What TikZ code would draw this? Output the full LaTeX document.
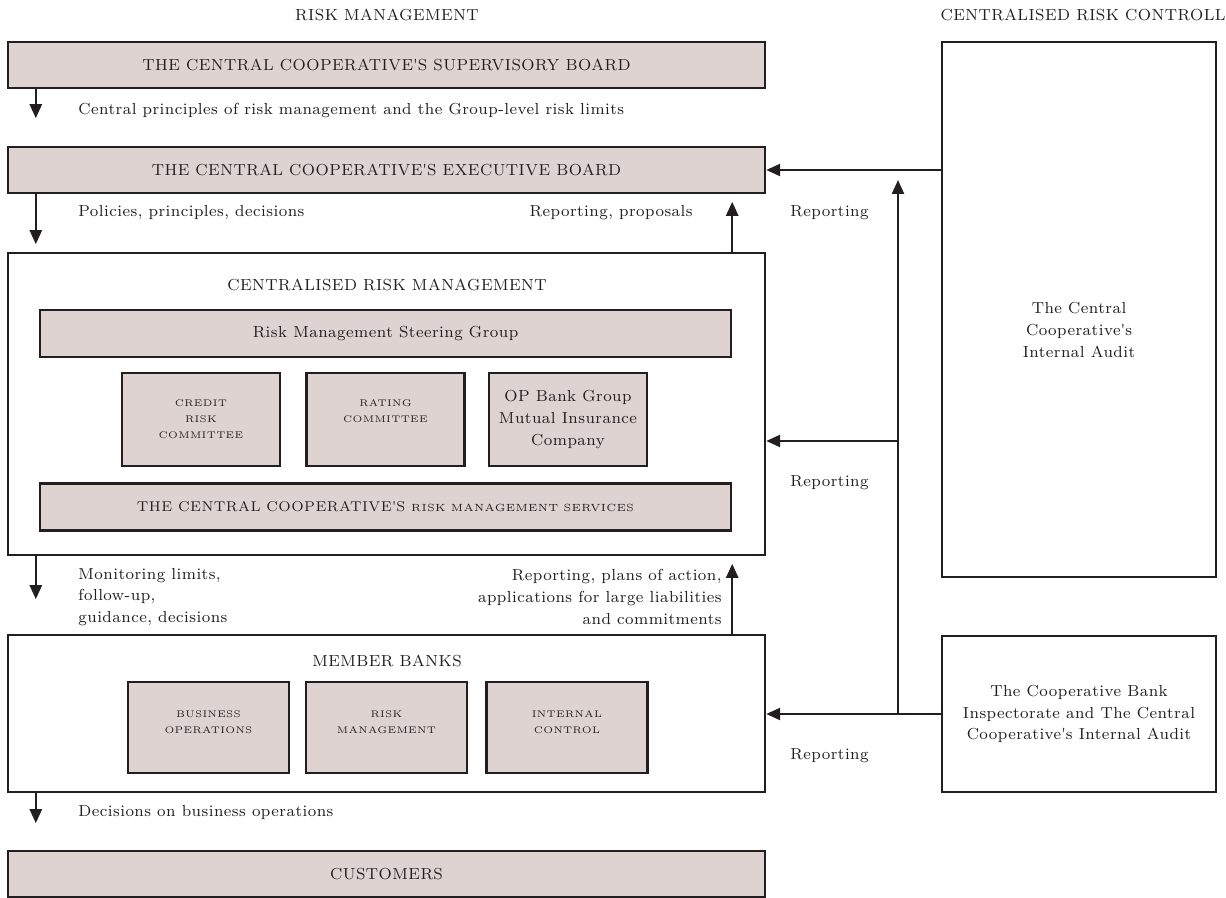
\documentclass[tikz,border=0pt]{standalone}
\usepackage{fontspec}
\setmainfont{Latin Modern Roman}[LetterSpace=3]
\usepackage{tikz}
\usetikzlibrary{arrows.meta, positioning}
\definecolor{boxfill}{HTML}{DFD3D2}
\definecolor{ink}{HTML}{231F20}
\newcommand{\capsfont}{\fontsize{8}{10}\selectfont}
\newcommand{\smcapsfont}{\fontsize{7.1}{10}\selectfont}
\newcommand{\minifont}{\fontsize{4.8}{8}\selectfont}
\newcommand{\servfont}{\fontsize{5.2}{8}\selectfont}
\newcommand{\bodyfont}{\fontsize{8}{10.8}\selectfont}
\newcommand{\apos}{\textquotesingle}
\tikzset{
  bar/.style={rectangle, draw=ink, fill=boxfill, line width=1.2pt,
              minimum width=378.5pt, minimum height=23pt, inner sep=0pt,
              font=\capsfont, text=ink},
  inbar/.style={bar, minimum width=345.5pt, minimum height=23.5pt},
  frame/.style={rectangle, draw=ink, fill=white, line width=1.2pt,
                inner sep=0pt, align=center, font=\bodyfont, text=ink},
  unit/.style={rectangle, draw=ink, fill=boxfill, line width=1.2pt,
               minimum width=79pt, minimum height=46.5pt, inner sep=0pt,
               align=center, font=\minifont, text=ink},
  title/.style={font=\capsfont, text=ink, inner sep=0pt},
  lbl/.style={font=\bodyfont, text=ink, inner sep=0pt},
  arr/.style={-{Triangle[length=7pt,width=6pt]}, line width=1.2pt, draw=ink},
}

\begin{document}
\begin{tikzpicture}[x=0.5pt, y=-0.5pt]
  \useasboundingbox (0,0) rectangle (1226,898);

  %% === Column titles ===
  \node[title] (rmtitle) at (387,15)  {RISK MANAGEMENT};
  \node[title] (rctitle) at (1083,15) {CENTRALISED RISK CONTROLL};

  %% === Left column: boards ===
  \node[bar] (sup)  at (386.5,65)  {THE CENTRAL COOPERATIVE\apos S SUPERVISORY BOARD};
  \node[bar] (exe)  at (386.5,170) {THE CENTRAL COOPERATIVE\apos S EXECUTIVE BOARD};

  %% === Centralised risk management ===
  \node[frame, minimum width=378.5pt, minimum height=151pt] (crm) at (386.5,404) {};
  \node[title] (crmtitle) at (387,285) {CENTRALISED RISK MANAGEMENT};
  \node[inbar, font=\bodyfont] (steer) at (385.5,333.5) {Risk Management Steering Group};
  \node[unit] (credit) at (201,419.5)   {CREDIT\\RISK\\COMMITTEE};
  \node[unit] (rating) at (385.5,419.5) {RATING\\COMMITTEE\\~};
  \node[unit, font=\bodyfont] (opins) at (568,419.5)
        {OP Bank Group\\Mutual Insurance\\Company};
  \node[inbar, font=\smcapsfont] (serv) at (385.5,507)
        {THE CENTRAL COOPERATIVE\apos S {\servfont RISK MANAGEMENT SERVICES}};

  %% === Member banks ===
  \node[frame, minimum width=378.5pt, minimum height=78.5pt] (mb) at (386.5,713.5) {};
  \node[title] (mbtitle) at (387,661) {MEMBER BANKS};
  \node[unit, minimum width=80.5pt, minimum height=45.5pt] (bizop)  at (208.5,727.5) {BUSINESS\\OPERATIONS\\[-3pt]~};
  \node[unit, minimum width=80.5pt, minimum height=45.5pt] (riskm)  at (386.5,727.5) {RISK\\MANAGEMENT\\[-3pt]~};
  \node[unit, minimum width=80.5pt, minimum height=45.5pt] (intctl) at (567,727.5)   {INTERNAL\\CONTROL\\[-3pt]~};

  \node[bar] (cust) at (386.5,874) {CUSTOMERS};

  %% === Right column: control ===
  \node[frame, minimum width=137pt, minimum height=267.5pt] (audit) at (1079,309.5) {};
  \node[lbl, align=center] (audittxt) at (1079,330)
        {The Central\\Cooperative\apos s\\Internal Audit};
  \node[frame, minimum width=137pt, minimum height=78pt] (insp) at (1079,714)
        {The Cooperative Bank\\Inspectorate and The Central\\Cooperative\apos s Internal Audit};

  %% === Downward steering arrows ===
  \draw[arr] ([xshift=14.5pt]sup.south west)  -- ++(0,29);
  \draw[arr] ([xshift=14.5pt]exe.south west)  -- ++(0,50);
  \draw[arr] ([xshift=14.5pt]crm.south west)  -- ++(0,43);
  \draw[arr] ([xshift=14.5pt]mb.south west)   -- ++(0,30);

  %% === Upward reporting arrows ===
  \draw[arr] ([xshift=-17pt]crm.north east) -- ++(0,-50);
  \draw[arr] ([xshift=-17pt]mb.north east)  -- ++(0,-70);

  %% === Control reporting ===
  \coordinate (jn)  at (898,714);
  \coordinate (jn2) at (898,441);
  \draw[arr] (audit.west |- exe.east) -- (exe.east);
  \draw[arr] (insp.west) -- (insp.west -| mb.east);
  \draw[arr] (jn) -- ([yshift=-5pt]jn |- exe.east);
  \draw[arr] (jn2) -- (jn2 -| crm.east);

  %% === Labels ===
  \node[lbl, anchor=west] (l1) at (78,111) {Central principles of risk management and the Group-level risk limits};
  \node[lbl, anchor=west] (l2) at (78,213) {Policies, principles, decisions};
  \node[lbl, anchor=east] (l3) at (693,213) {Reporting, proposals};
  \node[lbl, anchor=west, align=left] (l4) at (78,597)
        {Monitoring limits,\\follow-up,\\guidance, decisions};
  \node[lbl, anchor=east, align=right] (l5) at (722,597)
        {Reporting, plans of action,\\applications for large liabilities\\and commitments};
  \node[lbl, anchor=west] (l6) at (78,812) {Decisions on business operations};
  \node[lbl, anchor=west] (r1) at (790,213) {Reporting};
  \node[lbl, anchor=west] (r2) at (790,483) {Reporting};
  \node[lbl, anchor=west] (r3) at (790,756) {Reporting};
\end{tikzpicture}
\end{document}
